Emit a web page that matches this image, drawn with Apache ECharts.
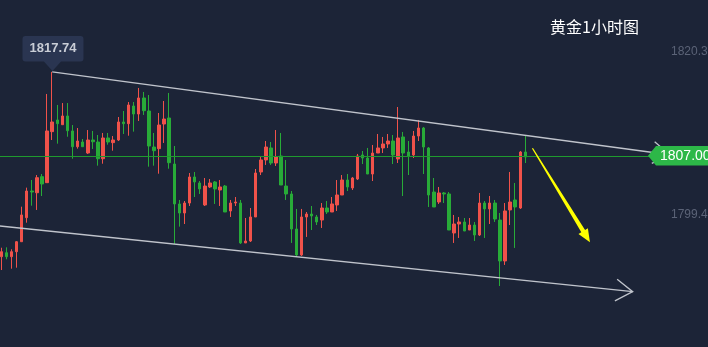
<!DOCTYPE html>
<html><head><meta charset="utf-8">
<script src="https://cdn.jsdelivr.net/npm/echarts@6/dist/echarts.min.js"></script>
<style>html,body{margin:0;padding:0;background:#1c2437;overflow:hidden}#c{width:708px;height:347px;}</style>
</head><body><div id="c"></div>
<script>
// Hourly gold candles: [open, close, low, high]
const candles = [
[1794.05,1794.69,1792.34,1795.20],[1794.56,1794.05,1793.72,1795.25],[1794.05,1794.69,1792.51,1795.00],[1794.69,1795.97,1792.64,1796.06],
[1795.97,1799.40,1795.97,1800.46],[1799.05,1802.47,1798.41,1802.90],[1802.47,1802.34,1800.59,1803.88],[1802.25,1804.18,1800.04,1804.52],
[1804.31,1803.37,1801.83,1804.65],[1803.54,1810.17,1803.54,1814.91],[1810.08,1811.32,1809.01,1817.74],[1811.58,1811.10,1808.54,1813.50],
[1810.97,1812.09,1810.97,1813.75],[1812.09,1810.20,1809.43,1813.75],[1810.17,1808.15,1806.61,1810.93],[1808.15,1808.88,1807.90,1810.55],
[1808.75,1808.15,1808.15,1809.14],[1807.34,1809.01,1807.22,1810.29],[1809.01,1808.79,1807.86,1810.17],[1808.75,1806.61,1805.72,1809.65],
[1806.61,1809.27,1805.97,1809.91],[1809.27,1808.75,1808.41,1809.91],[1808.67,1809.01,1807.64,1809.52],[1809.01,1811.32,1808.88,1811.96],
[1811.32,1811.10,1809.78,1812.73],[1811.10,1813.50,1809.56,1813.88],[1813.37,1812.34,1810.08,1813.88],[1812.34,1814.40,1811.45,1815.68],
[1814.40,1812.77,1812.22,1815.17],[1812.73,1808.24,1805.59,1814.78],[1808.11,1807.64,1805.72,1809.91],[1807.90,1810.93,1804.69,1812.47],
[1811.06,1811.70,1808.63,1814.01],[1811.83,1806.10,1805.33,1815.04],[1805.93,1800.81,1795.68,1808.24],[1800.81,1799.65,1797.90,1801.32],
[1799.65,1800.93,1798.24,1801.19],[1800.93,1804.27,1800.55,1804.78],[1804.27,1803.63,1801.70,1804.91],[1803.50,1802.73,1802.09,1803.75],
[1800.68,1803.11,1800.55,1804.14],[1802.99,1803.50,1802.86,1804.01],[1803.63,1802.73,1800.81,1803.75],[1802.60,1802.99,1800.55,1803.88],
[1803.11,1799.78,1799.78,1803.24],[1799.91,1800.93,1799.14,1801.32],[1800.93,1801.06,1800.55,1801.70],[1800.93,1795.81,1795.68,1801.32],
[1795.81,1796.06,1795.81,1799.01],[1796.06,1799.14,1795.93,1800.29],[1799.14,1804.78,1799.14,1805.29],[1804.91,1806.45,1804.52,1806.96],
[1806.45,1808.11,1805.81,1808.88],[1807.99,1806.06,1805.81,1808.75],[1806.06,1806.83,1805.68,1810.29],[1806.96,1803.24,1803.24,1809.91],
[1803.11,1802.09,1801.32,1806.45],[1802.09,1797.60,1795.81,1802.47],[1797.60,1794.27,1794.01,1800.17],[1794.27,1799.14,1794.14,1800.17],
[1799.14,1799.52,1796.58,1799.78],[1799.52,1799.27,1797.47,1800.55],[1799.14,1798.50,1798.11,1799.40],[1798.75,1800.29,1797.73,1800.93],
[1800.29,1799.78,1799.52,1801.19],[1799.78,1800.81,1799.78,1801.70],[1800.68,1801.96,1799.91,1803.88],[1801.96,1803.88,1801.96,1804.52],
[1803.88,1802.99,1802.47,1804.65],[1802.86,1804.14,1802.60,1804.27],[1804.01,1806.96,1803.88,1807.22],[1807.09,1806.70,1805.93,1807.60],
[1806.70,1804.65,1804.65,1807.99],[1804.65,1807.34,1803.75,1808.37],[1807.34,1807.99,1807.34,1809.78],[1807.99,1808.50,1807.34,1809.40],
[1808.50,1808.88,1807.99,1809.78],[1808.88,1807.09,1805.93,1809.65],[1806.58,1809.27,1806.06,1813.24],[1809.40,1807.34,1801.83,1810.04],
[1807.47,1806.96,1804.52,1808.88],[1807.09,1809.52,1806.70,1810.17],[1809.52,1810.55,1808.88,1811.58],[1810.55,1808.11,1804.65,1810.68],
[1807.99,1801.96,1800.42,1808.11],[1802.34,1800.42,1800.42,1804.14],[1801.06,1802.22,1800.81,1802.99],[1802.22,1802.09,1800.93,1802.34],
[1802.09,1797.47,1797.47,1802.34],[1797.09,1798.24,1795.81,1799.40],[1798.24,1798.50,1796.45,1799.14],[1798.50,1797.34,1797.34,1799.01],
[1797.47,1798.11,1797.47,1799.01],[1798.11,1796.83,1796.06,1798.50],[1796.83,1800.93,1796.70,1802.22],[1800.93,1800.17,1796.45,1801.19],
[1800.17,1800.93,1798.24,1801.83],[1800.93,1798.88,1798.50,1801.32],[1798.75,1793.50,1790.29,1799.65],[1793.50,1799.91,1792.99,1800.93],
[1800.04,1801.06,1798.11,1804.91],[1801.32,1800.42,1795.17,1803.50],[1800.29,1807.47,1800.17,1807.60],[1807.47,1806.83,1806.06,1809.52]
];
const emptySlots = 24;   // blank hours to the right of the last candle
const categories = [];
for (let i = 0; i < candles.length + emptySlots; i++) categories.push('H' + (i + 1));

const priceTicks = [1820.3, 1799.4];
const priceMin = 1782.47, priceMax = 1826.96;
const lastPrice = 1807.00;
const peakPoint = [10, 1817.74];
// annotation anchors in data space: [category index, price]
const upperTrend = [[10, 1817.74], [131.4, 1807.12]];
const lowerTrend = [[-0.3, 1797.99], [124.1, 1789.56]];
const forecastArrow = [[104.4, 1807.95], [115.7, 1795.90]];
const titleText = '黄金1小时图';

const UP = '#f0524a', DOWN = '#28ab38', LAST_LINE = '#1f9a2e';
const chart = echarts.init(document.getElementById('c'), null, {renderer: 'canvas'});
chart.setOption({
  backgroundColor: '#1c2437',
  animation: false,
  title: {text: titleText, left: 550, top: 19, padding: 0,
    textStyle: {color: '#ffffff', fontSize: 16, fontWeight: 'normal', fontFamily: '"Noto Sans CJK SC", sans-serif'}},
  grid: {left: -1.24, right: 58, top: 0, bottom: 0, containLabel: false, outerBoundsMode: 'none'},
  xAxis: {type: 'category', data: categories, boundaryGap: true, show: false},
  yAxis: {type: 'value', position: 'right', min: priceMin, max: priceMax, scale: true,
    splitLine: {show: false}, axisLine: {show: false}, axisTick: {show: false},
    axisLabel: {show: true, customValues: priceTicks, margin: 21, color: '#5b6377', fontSize: 12, hideOverlap: false,
      fontFamily: '"Liberation Sans", Arial, sans-serif', formatter: v => v.toFixed(2)}},
  series: [{
    type: 'candlestick', data: candles, barWidth: 3,
    itemStyle: {color: UP, color0: DOWN, borderColor: UP, borderColor0: DOWN, borderWidth: 1}
  }]
});

function px(pt) {
  const x0 = chart.convertToPixel({xAxisIndex: 0}, 0);
  const x1 = chart.convertToPixel({xAxisIndex: 0}, 1);
  const y = chart.convertToPixel({yAxisIndex: 0}, pt[1]);
  return [x0 + pt[0] * (x1 - x0), y];
}
function arrowLine(seg, color, w, head, withHead) {
  const a = px(seg[0]), b = px(seg[1]);
  const ang = Math.atan2(b[1] - a[1], b[0] - a[0]);
  const out = [{type: 'polyline', z: 100, shape: {points: [a, b]}, style: {stroke: color, lineWidth: w, fill: null}}];
  if (withHead) {
    const s = 33 * Math.PI / 180;
    const p1 = [b[0] - head * Math.cos(ang - s), b[1] - head * Math.sin(ang - s)];
    const p2 = [b[0] - head * Math.cos(ang + s), b[1] - head * Math.sin(ang + s)];
    out.push({type: 'polyline', z: 100, shape: {points: [p1, b, p2]}, style: {stroke: color, lineWidth: w, fill: null}});
  }
  return out;
}
const g = [];

// last-price horizontal line across the plot
(function () {
  const y = Math.round(chart.convertToPixel({yAxisIndex: 0}, lastPrice)) + 0.5;
  const gr = chart.getModel().getComponent('grid').coordinateSystem.getRect();
  g.push({type: 'line', z: 90, shape: {x1: 0, y1: y, x2: gr.x + gr.width, y2: y}, style: {stroke: LAST_LINE, lineWidth: 1}});
})();

g.push(...arrowLine(upperTrend, '#c0c4cc', 1.3, 20, true));
g.push(...arrowLine(lowerTrend, '#c0c4cc', 1.3, 20, true));

// yellow forecast arrow
(function () {
  const S = px(forecastArrow[0]), T = px(forecastArrow[1]);
  const dx = T[0] - S[0], dy = T[1] - S[1], L = Math.hypot(dx, dy);
  const u = [dx / L, dy / L], n = [-u[1], u[0]];
  const B = [T[0] - 13 * u[0], T[1] - 13 * u[1]];
  const P = (p, k) => [p[0] + k * n[0], p[1] + k * n[1]];
  g.push({type: 'polygon', z: 100, shape: {points: [P(S, 0.6), P(B, 2.2), P(B, 5.5), T, P(B, -5.5), P(B, -2.2), P(S, -0.6)]},
    style: {fill: '#ffff00', stroke: null}});
})();

// last-price tag
(function () {
  const y = chart.convertToPixel({yAxisIndex: 0}, lastPrice);
  const x = 648;
  g.push({type: 'polygon', z: 110, shape: {points: [[x, y], [x + 8, y - 9.7], [x + 70, y - 9.7], [x + 70, y + 9.7], [x + 8, y + 9.7]]},
    style: {fill: '#2db848'}});
  g.push({type: 'text', z: 111, x: x + 12, y: y, style: {text: lastPrice.toFixed(2), fill: '#ffffff', fontSize: 14,
    fontFamily: '"Liberation Sans", Arial, sans-serif', verticalAlign: 'middle', align: 'left'}});
})();

// peak tooltip
(function () {
  const p = px(peakPoint);
  const cx = p[0] + 0.3, ty = p[1] - 1;
  g.push({type: 'rect', z: 110, shape: {x: cx - 30, y: ty - 35, width: 61, height: 25.5, r: 3}, style: {fill: '#2a3551'}});
  g.push({type: 'polygon', z: 110, shape: {points: [[cx - 9, ty - 10], [cx + 9, ty - 10], [cx, ty]]}, style: {fill: '#2a3551'}});
  g.push({type: 'text', z: 111, x: cx + 0.5, y: ty - 22.5, style: {text: peakPoint[1].toFixed(2), fill: '#c9cdd6', fontSize: 13,
    fontWeight: 'bold', fontFamily: '"Liberation Sans", Arial, sans-serif', align: 'center', verticalAlign: 'middle'}});
})();
chart.setOption({graphic: g});
</script></body></html>
